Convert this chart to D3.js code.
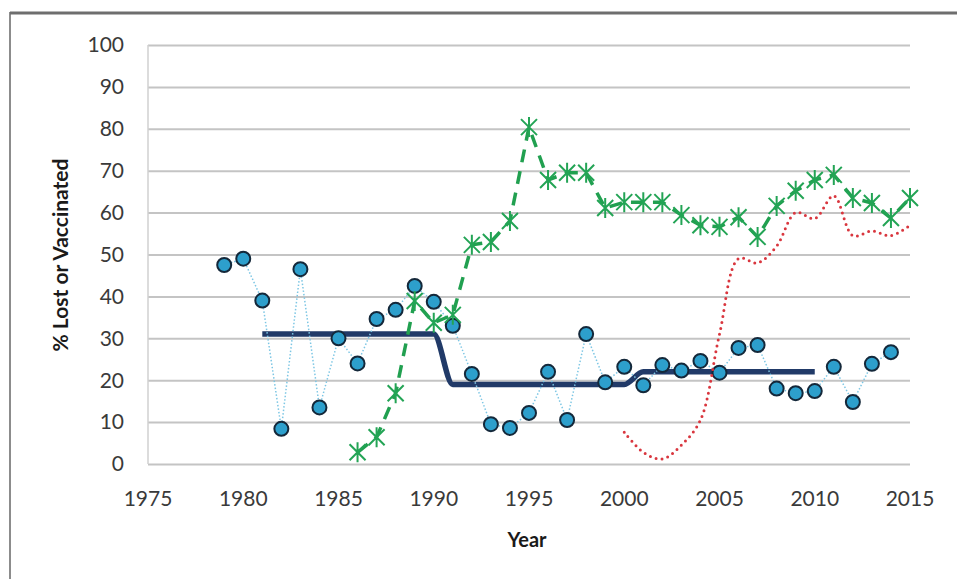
<!DOCTYPE html>
<html>
<head>
  <meta charset="utf-8">
  <title>% Lost or Vaccinated by Year</title>
  <style>
    body { margin: 0; background: white; font-family: Lato, "Open Sans", sans-serif; }
    .tick-label { font-size: 21px; fill: #3a3a3a; }
    .axis-title { font-size: 20px; font-weight: bold; fill: #1a1a1a; }
  </style>
  <script src="https://d3js.org/d3.v7.min.js"></script>
</head>
<body>
  <div id="chart"></div>
  <script>
    // Years and values
    const lostYears = [1979, 1980, 1981, 1982, 1983, 1984, 1985, 1986, 1987, 1988, 1989, 1990, 1991, 1992, 1993, 1994,
                       1995, 1996, 1997, 1998, 1999, 2000, 2001, 2002, 2003, 2004, 2005, 2006, 2007, 2008, 2009, 2010,
                       2011, 2012, 2013, 2014];
    const lostValues = [47.5, 49, 39, 8.4, 46.5, 13.5, 30, 24, 34.6, 36.8, 42.5, 38.7, 33, 21.5, 9.5, 8.6,
                        12.2, 22, 10.5, 31, 19.5, 23.2, 18.8, 23.6, 22.3, 24.6, 21.8, 27.7, 28.4, 18, 16.9, 17.4,
                        23.2, 14.8, 23.9, 26.7];

    const meanYears = [1981, 1990, 1991, 2000, 2001, 2010];
    const meanValues = [31, 31, 19, 19, 22, 22];

    const vaccYears = [1986, 1987, 1988, 1989, 1990, 1991, 1992, 1993, 1994, 1995, 1996, 1997, 1998, 1999, 2000,
                       2001, 2002, 2003, 2004, 2005, 2006, 2007, 2008, 2009, 2010, 2011, 2012, 2013, 2014, 2015];
    const vaccValues = [2.8, 6.4, 16.9, 38.9, 33.7, 35.6, 52.3, 53, 58, 80.4, 67.8, 69.5, 69.5, 61.1, 62.5,
                        62.5, 62.5, 59.4, 57, 56.6, 58.9, 54.2, 61.6, 65.2, 67.8, 69, 63.5, 62.3, 58.7, 63.5];

    const otherYears = [2000, 2001, 2002, 2003, 2004, 2005, 2006, 2007, 2008, 2009, 2010, 2011, 2012, 2013, 2014, 2015];
    const otherValues = [7.6, 2.8, 1.2, 4.5, 10.5, 31, 49, 48, 52, 60, 58.6, 64, 54.5, 55.6, 54.5, 57];

    const xTicks = [1975, 1980, 1985, 1990, 1995, 2000, 2005, 2010, 2015];
    const yTicks = [0, 10, 20, 30, 40, 50, 60, 70, 80, 90, 100];

    const zip = (xs, ys) => xs.map((d, i) => ({ year: d, value: ys[i] }));

    const width = 957, height = 579;
    const svg = d3.select("#chart").append("svg")
      .attr("width", width)
      .attr("height", height);

    // outer chart frame
    svg.append("rect")
      .attr("x", 10).attr("y", 13)
      .attr("width", 960).attr("height", 600)
      .attr("fill", "white")
      .attr("stroke", "#8c8c8c")
      .attr("stroke-width", 2);
    svg.append("line")
      .attr("x1", 10).attr("x2", 957).attr("y1", 13).attr("y2", 13)
      .attr("stroke", "#6e6e6e").attr("stroke-width", 3);

    const x = d3.scaleLinear().domain([1975, 2015]).range([148, 910]);
    const y = d3.scaleLinear().domain([0, 100]).range([464, 45]);

    // gridlines
    svg.append("g")
      .attr("transform", `translate(${x(1975)},0)`)
      .call(d3.axisLeft(y).tickValues(yTicks).tickSize(-(x(2015) - x(1975))).tickFormat(""))
      .call(g => g.select(".domain").remove())
      .call(g => g.selectAll("line").attr("stroke", "#c4c4c4").attr("stroke-width", 2));

    // y axis line and labels
    svg.append("line")
      .attr("x1", x(1975)).attr("x2", x(1975))
      .attr("y1", y(100)).attr("y2", y(0))
      .attr("stroke", "#d0d0d0").attr("stroke-width", 1.5);

    svg.append("g")
      .selectAll("text")
      .data(yTicks)
      .enter().append("text")
        .attr("class", "tick-label")
        .attr("x", 124)
        .attr("y", d => y(d))
        .attr("dy", "0.35em")
        .attr("text-anchor", "end")
        .text(d => d);

    svg.append("g")
      .selectAll("text")
      .data(xTicks)
      .enter().append("text")
        .attr("class", "tick-label")
        .attr("x", d => x(d))
        .attr("y", 499)
        .attr("dy", "0.35em")
        .attr("text-anchor", "middle")
        .text(d => d);

    svg.append("text")
      .attr("class", "axis-title")
      .attr("x", 527)
      .attr("y", 540)
      .attr("dy", "0.35em")
      .attr("text-anchor", "middle")
      .text("Year");

    svg.append("text")
      .attr("class", "axis-title")
      .attr("transform", "translate(61,255) rotate(-90)")
      .attr("dy", "0.35em")
      .attr("text-anchor", "middle")
      .style("font-size", "21px")
      .text("% Lost or Vaccinated");

    // mean line (drawn under the markers)
    const meanLine = d3.line()
      .x(d => x(d.year))
      .y(d => y(d.value))
      .curve(d3.curveMonotoneX);
    svg.append("path")
      .datum(zip(meanYears, meanValues))
      .attr("fill", "none")
      .attr("stroke", "#213a68")
      .attr("stroke-width", 5.5)
      .attr("stroke-linejoin", "round")
      .attr("d", meanLine);

    // lost series: thin dotted line + circles
    const lostData = zip(lostYears, lostValues);
    svg.append("path")
      .datum(lostData)
      .attr("fill", "none")
      .attr("stroke", "#7cc6e4")
      .attr("stroke-width", 1.5)
      .attr("stroke-dasharray", "1.5,2")
      .attr("d", d3.line().x(d => x(d.year)).y(d => y(d.value)));

    svg.append("g")
      .selectAll("circle")
      .data(lostData)
      .enter().append("circle")
        .attr("cx", d => x(d.year))
        .attr("cy", d => y(d.value))
        .attr("r", 7)
        .attr("fill", "#2d9fcc")
        .attr("stroke", "#14283a")
        .attr("stroke-width", 2);

    // red dotted smoothed series
    svg.append("path")
      .datum(zip(otherYears, otherValues))
      .attr("fill", "none")
      .attr("stroke", "#d9363e")
      .attr("stroke-width", 3)
      .attr("stroke-linecap", "round")
      .attr("stroke-dasharray", "0,6")
      .attr("d", d3.line().x(d => x(d.year)).y(d => y(d.value)).curve(d3.curveCatmullRom.alpha(0.5)));

    // vaccinated series: dashed green line + asterisk markers
    const vaccData = zip(vaccYears, vaccValues);
    svg.append("path")
      .datum(vaccData)
      .attr("fill", "none")
      .attr("stroke", "#21a050")
      .attr("stroke-width", 3.5)
      .attr("stroke-dasharray", "13,9")
      .attr("d", d3.line().x(d => x(d.year)).y(d => y(d.value)));

    const star = "M-8,-8L8,8M-8,8L8,-8M0,-10L0,10";
    svg.append("g")
      .selectAll("path")
      .data(vaccData)
      .enter().append("path")
        .attr("transform", d => `translate(${x(d.year)},${y(d.value)})`)
        .attr("d", star)
        .attr("fill", "none")
        .attr("stroke", "#23a455")
        .attr("stroke-width", 2);
  </script>
</body>
</html>
